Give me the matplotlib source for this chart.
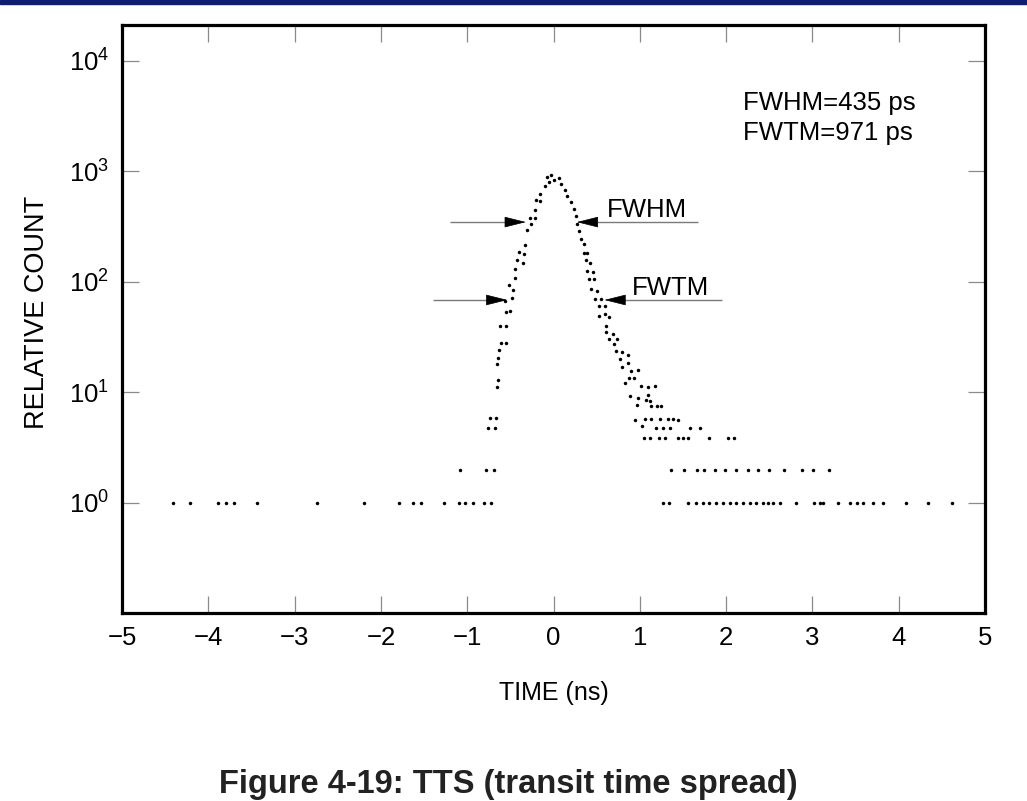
import matplotlib
matplotlib.use("Agg")
import matplotlib.pyplot as plt
from matplotlib.patches import Rectangle

plt.rcParams["font.family"] = ["Liberation Sans", "DejaVu Sans"]
plt.rcParams["mathtext.fontset"] = "custom"
plt.rcParams["mathtext.rm"] = "Liberation Sans"
plt.rcParams["mathtext.it"] = "Liberation Sans:italic"
plt.rcParams["mathtext.bf"] = "Liberation Sans:bold"

# ---- data -----------------------------------------------------------------
# leading edge and peak of the timing distribution (ns, relative count)
rise_time = [-0.76, -0.68, -0.74, -0.67, -0.66, -0.645, -0.66, -0.645, -0.626,
             -0.606, -0.551, -0.621, -0.552, -0.552, -0.506, -0.557, -0.482,
             -0.467, -0.514, -0.441, -0.441, -0.421, -0.359, -0.394, -0.340,
             -0.325, -0.305, -0.259, -0.270, -0.216, -0.212, -0.201, -0.158,
             -0.154, -0.100, -0.053, -0.077, -0.027]
rise_count = [4.7, 4.7, 5.9, 5.9, 11.2, 12.8, 17.9, 20.3, 23.9,
              27.9, 27.9, 39.4, 39.4, 53.2, 54.7, 66.9, 71.3,
              83.5, 94.0, 109, 130, 156, 149, 184, 179,
              216, 291, 332, 377, 377, 441, 551, 536,
              621, 727, 796, 883, 927]

# trailing edge (ns, relative count)
fall_time = [0.005, 0.063, 0.089, 0.132, 0.162, 0.202, 0.232, 0.255, 0.278,
             0.298, 0.313, 0.348, 0.356, 0.387, 0.371, 0.426, 0.387, 0.452,
             0.410, 0.468, 0.437, 0.507, 0.483, 0.545, 0.533, 0.591, 0.530,
             0.591, 0.646, 0.614, 0.614, 0.689, 0.646, 0.739, 0.700, 0.727,
             0.793, 0.863, 0.773, 0.863, 0.797, 0.897, 0.982, 0.870, 0.932,
             0.831, 1.009, 1.092, 1.171, 0.886, 0.980, 1.094, 1.069, 1.121,
             0.973, 1.133, 1.197, 1.243, 0.944, 1.448, 1.028]
fall_count = [835, 865, 769, 678, 598, 525, 454, 389, 332,
              285, 245, 219, 180, 180, 156, 149, 126, 123,
              106, 105, 86.4, 82.9, 70.2, 70.2, 60.3, 60.3, 49.3,
              51.4, 48.0, 40.0, 35.1, 33.7, 30.3, 30.3, 27.3, 23.8,
              23.2, 21.9, 20.0, 18.3, 17.0, 15.5, 15.9, 13.5, 13.5,
              12.0, 11.3, 11.1, 11.3, 9.19, 8.81, 9.38, 8.58, 8.37,
              7.60, 7.45, 7.45, 7.45, 5.66, 5.66, 5.0]

# tail channels that share the same count level
level_5_8_time = [1.055, 1.129, 1.231, 1.322, 1.388]
level_5_8 = 5.74
level_4_8_time = [1.187, 1.272, 1.350, 1.583, 1.693]
level_4_8 = 4.79
level_3_9_time = [1.049, 1.113, 1.226, 1.292, 1.442, 1.500, 1.562, 1.797,
                  2.026, 2.095]
level_3_9 = 3.85
level_2_time = [-1.08, -0.78, -0.69,
                1.365, 1.507, 1.664, 1.744, 1.866, 1.987, 2.118, 2.249,
                2.364, 2.497, 2.672, 2.878, 3.002, 3.191]
level_2 = 2.0
level_1_time = [-4.41, -4.21, -3.89, -3.79, -3.70, -3.44, -2.74, -2.20,
                -1.79, -1.63, -1.54, -1.27, -1.09, -1.02, -0.93, -0.80,
                -0.73,
                1.270, 1.339, 1.564, 1.654, 1.733, 1.803, 1.881, 1.963,
                2.041, 2.116, 2.197, 2.274, 2.344, 2.423, 2.480, 2.545,
                2.624, 2.805, 3.020, 3.086, 3.119, 3.293, 3.440, 3.518,
                3.591, 3.707, 3.823, 4.081, 4.344, 4.614]
level_1 = 1.0

x_ticks = [-5, -4, -3, -2, -1, 0, 1, 2, 3, 4, 5]
y_ticks = [1, 10, 100, 1000, 10000]
y_tick_labels = [r"$\mathdefault{10^{0}}$", r"$\mathdefault{10^{1}}$",
                 r"$\mathdefault{10^{2}}$", r"$\mathdefault{10^{3}}$",
                 r"$\mathdefault{10^{4}}$"]
fwhm_ps = 435
fwtm_ps = 971

# ---- figure ---------------------------------------------------------------
fig = plt.figure(figsize=(10.27, 8.01), dpi=100)
fig.patches.append(Rectangle((0, 1 - 4 / 801), 1, 4 / 801,
                             transform=fig.transFigure,
                             color="#0f1d72", zorder=0))

ax = fig.add_axes([0.1188, 0.2343, 0.8403, 0.7345])
ax.set_yscale("log")
ax.set_xlim(-5, 5)
ax.set_ylim(0.1, 2.1e4)

dot = dict(ls="none", marker="o", ms=2.5, mec="none", mfc="black")
ax.plot(rise_time, rise_count, **dot)
ax.plot(fall_time, fall_count, **dot)
for times, level in [(level_5_8_time, level_5_8), (level_4_8_time, level_4_8),
                     (level_3_9_time, level_3_9), (level_2_time, level_2),
                     (level_1_time, level_1)]:
    ax.plot(times, [level] * len(times), **dot)

ax.set_xticks(x_ticks)
ax.set_yticks(y_ticks)
ax.set_yticklabels(y_tick_labels)
ax.minorticks_off()
ax.tick_params(axis="both", which="major", direction="in", length=12.5,
               width=0.9, color="#8a8a8a", top=True, right=True,
               labelsize=18.5, pad=9)
for s in ax.spines.values():
    s.set_linewidth(2.3)
    s.set_color("black")

# summary of widths
ax.text(0.7199, 0.8555, f"FWHM={fwhm_ps} ps", transform=ax.transAxes,
        fontsize=18.5, ha="left", va="baseline")
ax.text(0.7199, 0.8045, f"FWTM={fwtm_ps} ps", transform=ax.transAxes,
        fontsize=18.5, ha="left", va="baseline")


def width_arrow(start, tip, y):
    """Grey shaft with a solid black head pointing at the curve."""
    direction = 1 if tip > start else -1
    base = tip - direction * 0.022
    ax.plot([start, base], [y, y], transform=ax.transAxes, color="#7a7a7a",
            lw=1.0, solid_capstyle="butt")
    ax.annotate("", xy=(tip, y), xytext=(base, y),
                xycoords="axes fraction", textcoords="axes fraction",
                arrowprops=dict(arrowstyle="-|>,head_length=1.4,head_width=0.35",
                                color="black", lw=0.5, shrinkA=0, shrinkB=0,
                                mutation_scale=10))


width_arrow(0.380, 0.468, 0.665)
width_arrow(0.667, 0.527, 0.665)
width_arrow(0.360, 0.4465, 0.5326)
width_arrow(0.695, 0.559, 0.5326)
ax.text(0.562, 0.6737, "FWHM", transform=ax.transAxes, fontsize=18.5,
        ha="left", va="baseline")
ax.text(0.591, 0.5411, "FWTM", transform=ax.transAxes, fontsize=18.5,
        ha="left", va="baseline")

ax.text(0.5, -0.147, "TIME (ns)", transform=ax.transAxes, fontsize=18,
        ha="center", va="baseline")
fig.text(0.0428, 0.6105, "RELATIVE COUNT", rotation=90, fontsize=19.5,
         ha="center", va="baseline", rotation_mode="anchor")
fig.text(0.495, 0.0094, "Figure 4-19: TTS (transit time spread)",
         fontsize=23.5, fontweight="bold", ha="center", va="baseline",
         color="#222222")

fig.savefig("out.png", dpi=100)
